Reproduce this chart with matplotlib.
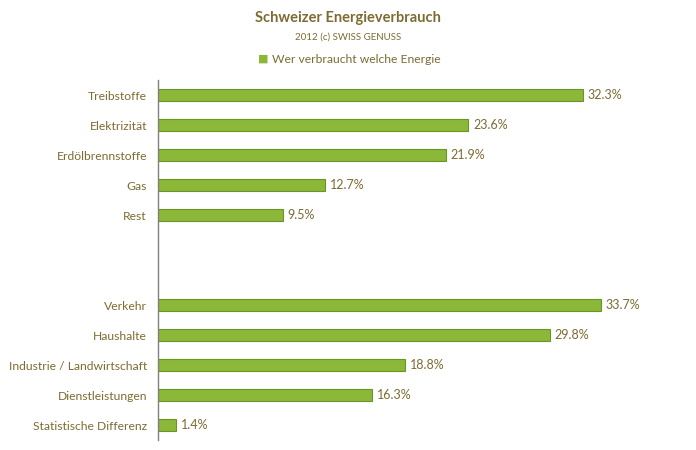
import matplotlib
matplotlib.use("Agg")
import matplotlib.pyplot as plt

# Daten
energie_labels = ["Treibstoffe", "Elektrizität", "Erdölbrennstoffe", "Gas", "Rest"]
energie_werte = [32.3, 23.6, 21.9, 12.7, 9.5]
sektor_labels = ["Verkehr", "Haushalte", "Industrie / Landwirtschaft",
                 "Dienstleistungen", "Statistische Differenz"]
sektor_werte = [33.7, 29.8, 18.8, 16.3, 1.4]

labels = energie_labels + ["", ""] + sektor_labels
werte = energie_werte + [None, None] + sektor_werte

txt = "#7d6b32"
gruen = "#8cb83a"
rand = "#6b9424"

plt.rcParams['font.family'] = ['Lato', 'DejaVu Sans']

fig = plt.figure(figsize=(6.96, 4.5), dpi=100)
ax = fig.add_axes([158 / 696, 10 / 450, 526 / 696, 360 / 450])

pos = list(range(len(labels)))
for p, v in zip(pos, werte):
    if v is None:
        continue
    ax.barh(p, v, height=0.4, color=gruen, edgecolor=rand, linewidth=0.8)
    ax.text(v + 0.35, p, f"{v:.1f}%", va="center", ha="left",
            fontsize=9, color=txt)

ax.set_xlim(0, 40)
ax.set_ylim(len(labels) - 0.5, -0.5)
ax.set_yticks(pos)
ax.set_yticklabels(labels, fontsize=8.7, color=txt)
ax.tick_params(axis="y", length=0, pad=8)
ax.set_xticks([])
for s in ["top", "right", "bottom"]:
    ax.spines[s].set_visible(False)
ax.spines["left"].set_color("#808080")
ax.spines["left"].set_linewidth(1)

fig.text(348 / 696, 1 - 18 / 450, "Schweizer Energieverbrauch", ha="center",
         va="center", fontsize=10.5, fontweight="bold", color=txt)
fig.text(348 / 696, 1 - 37 / 450, "2012 (c) SWISS GENUSS", ha="center",
         va="center", fontsize=7, color=txt)
fig.text(263 / 696, 1 - 59 / 450, "\u25a0", ha="center", va="center",
         fontsize=8, color=gruen, family=["DejaVu Sans"])
fig.text(272 / 696, 1 - 59 / 450, "Wer verbraucht welche Energie", ha="left",
         va="center", fontsize=8.7, color=txt)

fig.savefig("out.png", dpi=100, facecolor="white")
